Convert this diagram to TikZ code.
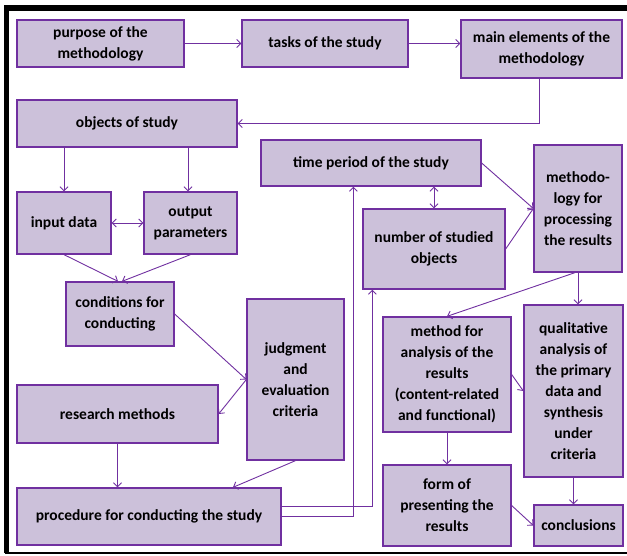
\documentclass[tikz,border=0pt]{standalone}
\usepackage{fontspec}
\setmainfont{Carlito}
\usetikzlibrary{arrows.meta,positioning}
\definecolor{boxfill}{HTML}{CCC1DA}
\definecolor{boxline}{HTML}{7030A0}
\tikzset{
  stagebox/.style={draw=boxline,fill=boxfill,line width=1.3pt,align=center,inner sep=1pt,
    font=\fontsize{15.5}{21}\selectfont\bfseries},
  link/.style={draw=boxline,line width=0.9pt,-{Straight Barb[length=4pt,width=8pt]}},
  twolink/.style={link,{Straight Barb[length=4pt,width=8pt]}-{Straight Barb[length=4pt,width=8pt]}}
}
\begin{document}
\begin{tikzpicture}[x=1pt,y=-1pt]
  \useasboundingbox (0,0) rectangle (627,556);
  % frame
  \draw[line width=5.5pt] (6.5,553) -- (6.5,8) -- (627,8);
  \draw[line width=1.5pt] (5,553) -- (627,553);
  % boxes
  \node[stagebox,minimum width=167pt,minimum height=47pt] (purpose) at (100.5,43.5) {purpose of the\\methodology};
  \node[stagebox,minimum width=166pt,minimum height=47pt] (tasks) at (325,43.5) {tasks of the study};
  \node[stagebox,minimum width=161pt,minimum height=58pt] (elements) at (541.5,49) {main elements of the\\methodology};
  \node[stagebox,minimum width=220pt,minimum height=47pt] (objects) at (127,123.5) {objects of study};
  \node[stagebox,minimum width=220pt,minimum height=46pt] (period) at (371,163) {time period of the study};
  \node[stagebox,minimum width=142pt,minimum height=80pt] (number) at (434,249) {number of studied\\objects};
  \node[stagebox,minimum width=88pt,minimum height=127pt] (processing) at (578,208.5) {methodo-\\logy for\\processing\\the results};
  \node[stagebox,minimum width=94pt,minimum height=62pt] (input) at (64,223) {input data};
  \node[stagebox,minimum width=93pt,minimum height=62pt] (output) at (190.5,223) {output\\parameters};
  \node[stagebox,minimum width=108pt,minimum height=64pt] (conditions) at (120,314) {conditions for\\conducting};
  \node[stagebox,minimum width=97pt,minimum height=161pt] (criteria) at (295.5,379.5) {judgment\\and\\evaluation\\criteria};
  \node[stagebox,minimum width=201pt,minimum height=58pt] (methods) at (117.5,414) {research methods};
  \node[stagebox,minimum width=264pt,minimum height=57pt] (procedure) at (149,516.5) {procedure for conducting the study};
  \node[stagebox,minimum width=128pt,minimum height=115pt] (analysis) at (447,374.5) {method for\\analysis of the\\results\\(content-related\\and functional)};
  \node[stagebox,minimum width=99pt,minimum height=172pt] (qualitative) at (573.5,391) {qualitative\\analysis of\\the primary\\data and\\synthesis\\under\\criteria};
  \node[stagebox,minimum width=128pt,minimum height=81pt] (form) at (447,505.5) {form of\\presenting the\\results};
  \node[stagebox,minimum width=89pt,minimum height=41pt] (conclusions) at (578.5,525.5) {conclusions};
  % connectors
  \draw[link] (purpose) -- (tasks);
  \draw[link] (tasks.east) -- (tasks.east -| elements.west);
  \draw[link] ([xshift=-2.5pt]elements.south) |- (objects.east);
  \draw[link] (objects.south -| input) -- (input);
  \draw[link] ([xshift=-2.5pt]objects.south -| output) -- ([xshift=-2.5pt]output.north);
  \draw[twolink] (input) -- (output);
  \draw[link] (input.south) -- ([xshift=-2pt]conditions.north);
  \draw[link] (output.south) -- ([xshift=2pt]conditions.north);
  \draw[link] (conditions.east) -- (criteria.west);
  \draw[link] (criteria.west) -- (methods.east);
  \draw[link] (methods.south) -- (methods.south |- procedure.north);
  \draw[link] (criteria.south) -- ([xshift=84pt]procedure.north);
  \draw[link] ([yshift=10.5pt]procedure.east) -| ([xshift=10pt]number.south west);
  \draw[link] (procedure.east) -| ([xshift=93pt]period.south west);
  \draw[twolink] (number.north) -- (number.north |- period.south);
  \draw[link] (period.east) -- (processing.west);
  \draw[link] (number.east) -- (processing.west);
  \draw[link] (processing.south) -- (processing.south |- qualitative.north);
  \draw[link] ([xshift=-3pt]processing.south) -- (analysis.north);
  \draw[link] (analysis.east) -- (qualitative.west);
  \draw[link] (analysis) -- (form);
  \draw[link] (qualitative.south) -- (qualitative.south |- conclusions.north);
  \draw[link] (form.east) -- (conclusions.west);
\end{tikzpicture}
\end{document}
